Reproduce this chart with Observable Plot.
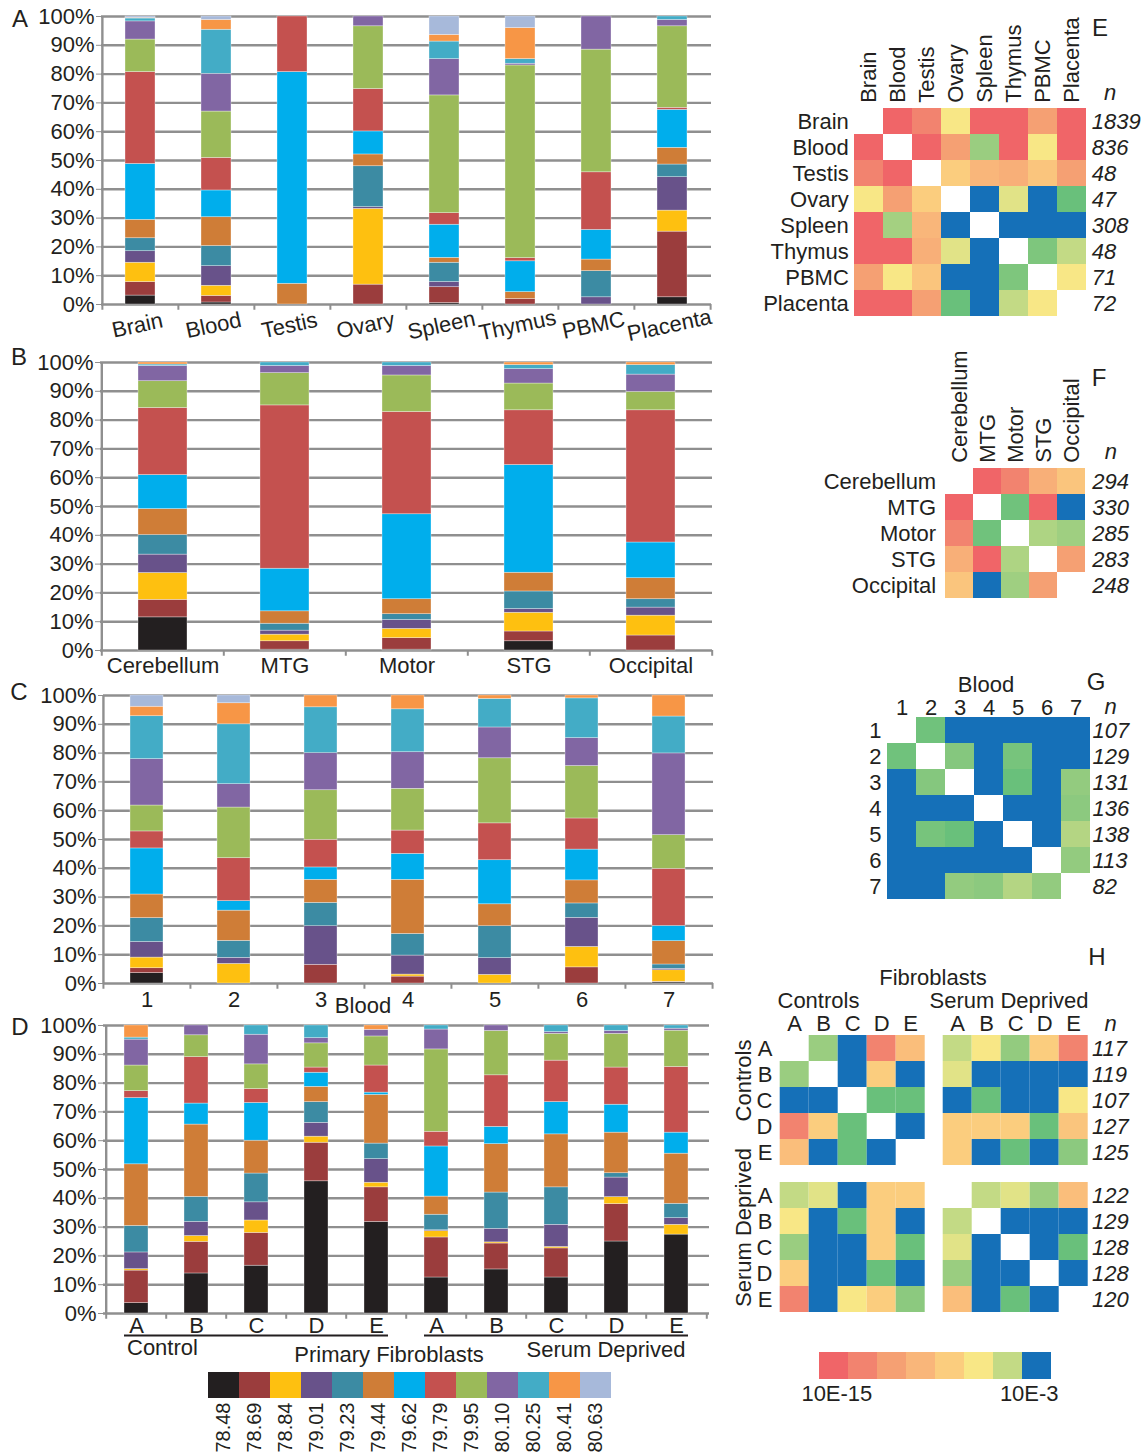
<!DOCTYPE html>
<html><head><meta charset="utf-8">
<script src="https://cdn.jsdelivr.net/npm/d3@7"></script>
<script src="https://cdn.jsdelivr.net/npm/@observablehq/plot@0.6"></script>
<style>
html,body{margin:0;padding:0;background:#fff;}
#page{position:relative;width:1143px;height:1456px;overflow:hidden;background:#fff;font-family:"Liberation Sans",Arial,Helvetica,sans-serif;color:#231f20;}
#page svg{position:absolute;}
</style></head>
<body><div id="page"></div>
<script>
// ---------------- DATA ----------------
const bins = ["78.48","78.69","78.84","79.01","79.23","79.44","79.62","79.79","79.95","80.10","80.25","80.41","80.63"];
const yTicks = [0,10,20,30,40,50,60,70,80,90,100];

// Panel A: tissues (percent per bin, bottom to top)
const tissues = ["Brain","Blood","Testis","Ovary","Spleen","Thymus","PBMC","Placenta"];
const brainA    = [3.1, 4.7, 6.7, 4.0, 4.5, 6.4, 19.4, 31.9, 11.3, 6.3, 1.0, 0.2, 0.5];
const bloodA    = [0.7, 2.3, 3.5, 6.8, 7.0, 10.0, 9.3, 11.3, 16.1, 13.1, 15.3, 3.4, 1.2];
const testisA   = [0, 0, 0, 0, 0, 7.2, 73.5, 19.3, 0, 0, 0, 0, 0];
const ovaryA    = [0, 6.9, 26.3, 0.6, 14.2, 4.1, 8.0, 14.7, 21.8, 3.4, 0, 0, 0];
const spleenA   = [0.5, 5.5, 0, 1.8, 6.7, 1.7, 11.5, 4.0, 40.9, 12.6, 6.1, 2.3, 6.4];
const thymusA   = [0, 1.9, 0, 0, 0, 2.4, 10.7, 1.1, 66.9, 0.6, 1.6, 10.8, 4.0];
const pbmcA     = [0, 0, 0, 2.5, 9.1, 4.0, 10.3, 20.0, 42.6, 11.5, 0, 0, 0];
const placentaA = [2.5, 22.8, 7.3, 11.6, 4.4, 5.8, 13.2, 0.7, 28.3, 2.2, 1.2, 0, 0];

// Panel B: brain regions
const regions = ["Cerebellum","MTG","Motor","STG","Occipital"];
const cerebellumB = [11.5, 6.1, 9.3, 6.4, 6.8, 9.0, 11.8, 23.3, 9.3, 5.3, 0.5, 0.7, 0];
const mtgB        = [0.3, 2.9, 2.3, 1.4, 2.4, 4.3, 14.8, 56.7, 11.2, 2.5, 1.2, 0, 0];
const motorB      = [0.3, 4.0, 3.2, 3.1, 2.0, 5.2, 29.5, 35.5, 12.7, 3.3, 1.2, 0, 0];
const stgB        = [3.2, 3.4, 6.5, 1.3, 6.1, 6.5, 37.4, 19.0, 9.3, 5.0, 1.4, 0.9, 0];
const occipitalB  = [0, 5.2, 6.9, 2.8, 2.9, 7.3, 12.4, 45.9, 6.4, 6.0, 3.3, 0.9, 0];

// Panel C: blood samples
const bloodSamples = ["1","2","3","4","5","6","7"];
const blood1 = [3.6, 1.7, 3.7, 5.4, 8.3, 8.2, 16.0, 5.9, 9.0, 16.1, 14.9, 3.3, 3.9];
const blood2 = [0, 0, 6.8, 2.1, 5.9, 10.5, 3.3, 14.9, 17.6, 8.1, 20.8, 7.3, 2.7];
const blood3 = [0, 6.5, 0, 13.4, 8.1, 8.0, 4.3, 9.6, 17.2, 12.9, 15.9, 4.1, 0];
const blood4 = [0, 2.4, 0.7, 6.6, 7.5, 18.8, 9.0, 8.1, 14.5, 12.7, 14.9, 4.8, 0];
const blood5 = [0, 0, 3.0, 5.8, 11.1, 7.6, 15.3, 12.8, 22.6, 10.7, 9.9, 1.2, 0];
const blood6 = [0, 5.6, 7.1, 10.1, 5.0, 8.0, 10.7, 10.8, 18.2, 9.7, 13.8, 1.0, 0];
const blood7 = [0.4, 0.2, 4.0, 0.5, 1.5, 8.1, 5.3, 19.8, 11.7, 28.4, 12.8, 7.3, 0];

// Panel D: primary fibroblasts
const fibroGroups = ["Control","Serum Deprived"];
const fibroSamples = ["A","B","C","D","E"];
const ctrlA = [3.6, 11.3, 0.5, 5.8, 9.2, 21.4, 23.0, 2.4, 8.9, 9.0, 0.7, 4.2, 0];
const ctrlB = [13.9, 11.0, 2.0, 4.9, 8.7, 25.1, 7.3, 16.1, 7.6, 3.4, 0, 0, 0];
const ctrlC = [16.6, 11.4, 4.3, 6.3, 10.0, 11.4, 13.1, 4.8, 8.6, 10.3, 3.2, 0, 0];
const ctrlD = [45.9, 13.4, 2.1, 4.8, 7.2, 5.3, 4.9, 1.8, 8.4, 1.8, 4.4, 0, 0];
const ctrlE = [31.8, 12.0, 1.6, 8.2, 5.4, 16.9, 0.8, 9.4, 10.1, 2.3, 0, 1.5, 0];
const serumA = [12.5, 13.9, 2.2, 0.3, 5.4, 6.3, 17.4, 5.1, 28.6, 6.9, 1.4, 0, 0];
const serumB = [15.3, 9.0, 0.4, 4.7, 12.6, 16.8, 6.0, 17.9, 15.4, 1.9, 0, 0, 0];
const serumC = [12.5, 10.1, 0.5, 7.7, 13.0, 18.4, 11.2, 14.4, 9.3, 0.6, 2.3, 0, 0];
const serumD = [25.0, 13.0, 2.4, 6.8, 1.5, 14.1, 9.7, 12.9, 11.7, 1.0, 1.9, 0, 0];
const serumE = [27.4, 0, 3.4, 2.3, 5.0, 17.4, 7.3, 22.8, 12.6, 0.7, 1.1, 0, 0];

// Heatmaps: log10 p-value per pair (null = same sample; -2 = not significant, p > 10E-3)
const nE = [1839, 836, 48, 47, 308, 48, 71, 72];
const matE = [
  [null, -15, -13, -7, -15, -15, -11.5, -15],
  [-15, null, -15, -11.5, -4.2, -15, -7, -15],
  [-13, -15, null, -8.5, -10, -10.5, -9, -11.5],
  [-7, -11.5, -8.5, null, -2, -6, -2, -3.5],
  [-15, -4.4, -10, -2, null, -2, -2, -2],
  [-15, -15, -10.5, -6, -2, null, -3.8, -5],
  [-11.5, -7, -9, -2, -2, -3.8, null, -7],
  [-15, -15, -11.5, -3.5, -2, -5, -7, null]
];
const nF = [294, 330, 285, 283, 248];
const matF = [
  [null, -15, -13, -10.5, -9],
  [-15, null, -3.6, -15, -2],
  [-13, -3.6, null, -4.6, -4.3],
  [-10.5, -15, -4.6, null, -11.5],
  [-9, -2, -4.3, -11.5, null]
];
const nG = [107, 129, 131, 136, 138, 113, 82];
const matG = [
  [null, -3.6, -2, -2, -2, -2, -2],
  [-3.6, null, -3.9, -2, -3.7, -2, -2],
  [-2, -3.9, null, -2, -3.5, -2, -4.1],
  [-2, -2, -2, null, -2, -2, -4.0],
  [-2, -3.7, -3.5, -2, null, -2, -4.7],
  [-2, -2, -2, -2, -2, null, -4.1],
  [-2, -2, -4.1, -4.0, -4.7, -4.1, null]
];
const hGroups = ["Controls","Serum Deprived"];
const nH = [117, 119, 107, 127, 125, 122, 129, 128, 128, 120];
const matH = [
  [null, -4.2, -2, -13, -9.5,   -5, -7, -4.1, -8.5, -13],
  [-4.2, null, -2, -8.5, -2,    -6, -2, -2, -2, -2],
  [-2, -2, null, -3.5, -3.5,    -2, -3.5, -2, -2, -7],
  [-13, -8.5, -3.5, null, -2,   -8.5, -8.5, -8.5, -3.5, -9],
  [-9.5, -2, -3.5, -2, null,    -8.5, -2, -3.5, -2, -4.0],
  [-5, -6, -2, -8.5, -8.5,      null, -5, -6, -4.2, -9.5],
  [-7, -2, -3.5, -8.5, -2,      -5, null, -2, -2, -2],
  [-4.2, -2, -2, -8.5, -3.5,    -6, -2, null, -2, -3.5],
  [-8.5, -2, -2, -3.5, -2,      -4.2, -2, -2, null, -2],
  [-13, -2, -7, -8.5, -4.0,     -9.5, -2, -3.5, -2, null]
];
const heatLegendLevels = [-15, -13, -11.5, -10, -8.5, -7, -5, -2];
const heatLegendLabels = ["10E-15", "10E-3"];

// ---------------- STYLE ----------------
const FONT = '"Liberation Sans", Arial, Helvetica, sans-serif';
const INK = "#231f20";
const GRID = "#8f8f8f";
const binColors = ["#231F20","#9B3D3D","#FEC010","#68528A","#3C8BA3","#CF7D37","#00AEEC","#C4514F","#9BBA59","#8166A3","#43ACC6","#F79646","#A7B9DA"];
const heatColor = {
  type: "linear",
  domain: [-15, -13, -11.5, -10, -8.5, -7, -6, -5, -4.2, -3.5, -2],
  range: ["#F06568","#F2836F","#F5A073","#F9B67A","#FBCD7E","#F8E786","#E1E387","#C3DA85","#9ACD80","#69C07B","#1570B8"]
};
const baseStyle = {fontFamily: FONT, fontSize: "22px", color: INK, background: "transparent", overflow: "visible"};
const T = {fontSize: 22, fill: INK, lineAnchor: "middle"};
const page = document.getElementById("page");

function place(svg, left, top) {
  svg.style.left = left + "px";
  svg.style.top = top + "px";
  svg.style.maxWidth = "none";
  page.appendChild(svg);
}
function addLabel(text, x, y, {size = 22, anchor = "middle", italic = false} = {}) {
  const d = document.createElement("div");
  d.textContent = text;
  d.style.cssText = `position:absolute;left:${x}px;top:${y - 0.4885 * size}px;font-size:${size}px;line-height:${size}px;white-space:nowrap;${italic ? "font-style:italic;" : ""}`;
  if (anchor === "middle") d.style.transform = "translateX(-50%)";
  else if (anchor === "end") d.style.transform = "translateX(-100%)";
  page.appendChild(d);
}

// ---------------- BAR PANELS ----------------
function barPanel({keys, values, labelFn, left, top, width, height, mt, mb, ml, mr, pad, labelDy, labelDx = 0, rotate = 0, extra = []}) {
  const long = keys.flatMap((k, i) => values[i].map((v, j) => ({k, bin: bins[j], v})));
  const step = (width - ml - mr) / keys.length;
  const svg = Plot.plot({
    width, height, marginTop: mt, marginBottom: mb, marginLeft: ml, marginRight: mr,
    style: baseStyle,
    x: {domain: keys, paddingInner: pad, paddingOuter: pad / 2, axis: null, label: null},
    y: {domain: [0, 100], axis: null, label: null},
    color: {domain: bins, range: binColors},
    marks: [
      Plot.gridY(yTicks, {stroke: GRID, strokeOpacity: 1, strokeWidth: 2.4}),
      Plot.ruleX(keys, {x: d => d, y1: 0, y2: -2, dx: -step / 2, stroke: GRID, strokeWidth: 2}),
      Plot.ruleX(keys.slice(-1), {x: d => d, y1: 0, y2: -2, dx: step / 2, stroke: GRID, strokeWidth: 2}),
      Plot.ruleX(keys.slice(0, 1), {x: d => d, y1: 0, y2: 100, dx: -step / 2, stroke: GRID, strokeWidth: 2.4}),
      Plot.axisY(yTicks, {tickFormat: d => d + "%", tickSize: 5, tickPadding: 2, fontSize: 22, stroke: GRID, fill: INK, label: null}),
      Plot.barY(long, {x: "k", y: "v", fill: "bin", stroke: "white", strokeWidth: 0.6, strokeOpacity: 0.55}),
      Plot.text(keys, {...T, x: d => d, text: labelFn, frameAnchor: "bottom", dy: labelDy, dx: labelDx, rotate}),
      ...extra
    ]
  });
  place(svg, left, top);
}

barPanel({keys: tissues, values: [brainA, bloodA, testisA, ovaryA, spleenA, thymusA, pbmcA, placentaA],
  labelFn: d => d, left: 0, top: 0, width: 720, height: 345, mt: 16, mb: 41, ml: 101, mr: 9, pad: 0.606,
  labelDy: 21, labelDx: -3, rotate: -12});

barPanel({keys: regions, values: [cerebellumB, mtgB, motorB, stgB, occipitalB],
  labelFn: d => d, left: 0, top: 350, width: 720, height: 340, mt: 12, mb: 40, ml: 100, mr: 8, pad: 0.6,
  labelDy: 15});

barPanel({keys: bloodSamples, values: [blood1, blood2, blood3, blood4, blood5, blood6, blood7],
  labelFn: d => d, left: 0, top: 680, width: 720, height: 340, mt: 15, mb: 37, ml: 103, mr: 7, pad: 0.615,
  labelDy: 16});

const dKeys = fibroGroups.flatMap(g => fibroSamples.map(s => g + "|" + s));
barPanel({keys: dKeys, values: [ctrlA, ctrlB, ctrlC, ctrlD, ctrlE, serumA, serumB, serumC, serumD, serumE],
  labelFn: d => d.split("|")[1], left: 0, top: 1010, width: 720, height: 340, mt: 15, mb: 37, ml: 103, mr: 11, pad: 0.6,
  labelDy: 12,
  extra: [Plot.ruleY(fibroGroups, {y: () => 0, x1: g => g + "|A", x2: g => g + "|E", dy: 22, stroke: INK, strokeWidth: 2})]});

// bar colour legend
place(Plot.plot({
  width: 440, height: 96, marginLeft: 12, marginRight: 13, marginTop: 12, marginBottom: 58,
  style: baseStyle,
  x: {domain: bins, padding: 0, axis: null},
  color: {domain: bins, range: binColors},
  marks: [
    Plot.cell(bins, {x: d => d, fill: d => d, inset: 0}),
    Plot.text(bins, {...T, x: d => d, frameAnchor: "bottom", rotate: -90, textAnchor: "end", dy: 4, fontSize: 20})
  ]
}), 190, 1360);

// ---------------- HEATMAPS ----------------
function heatCells(rows, cols, mat) {
  const out = [];
  rows.forEach((r, i) => cols.forEach((c, j) => { if (mat[i][j] != null) out.push({r, c, v: mat[i][j]}); }));
  return out;
}
function heatPanel({labels, mat, n, left, top, width, height, mt, mb, ml, mr, rotateCols, colDy, rowDx, nDx, hdrDx, hdrDy}) {
  const colText = rotateCols
    ? Plot.text(labels, {...T, x: d => d, frameAnchor: "top", rotate: -90, textAnchor: "start", dy: colDy})
    : Plot.text(labels, {...T, x: d => d, frameAnchor: "top", textAnchor: "middle", dy: colDy});
  place(Plot.plot({
    width, height, marginTop: mt, marginBottom: mb, marginLeft: ml, marginRight: mr,
    style: baseStyle,
    x: {domain: labels, padding: 0, axis: null},
    y: {domain: labels, padding: 0, axis: null},
    color: heatColor,
    marks: [
      Plot.cell(heatCells(labels, labels, mat), {x: "c", y: "r", fill: "v", inset: 0}),
      colText,
      Plot.text(labels, {...T, y: d => d, frameAnchor: "left", textAnchor: "end", dx: rowDx}),
      Plot.text(labels, {...T, y: d => d, text: (d, i) => String(n[i]), frameAnchor: "right", textAnchor: "start", dx: nDx, fontStyle: "italic"}),
      Plot.text(["n"], {...T, frameAnchor: "top-right", textAnchor: "middle", dx: hdrDx, dy: hdrDy, fontStyle: "italic"})
    ]
  }), left, top);
}

heatPanel({labels: tissues, mat: matE, n: nE, left: 740, top: 0, width: 403, height: 330,
  mt: 107.3, mb: 13.3, ml: 114.3, mr: 56.3, rotateCols: true, colDy: -5, rowDx: -6, nDx: 4.5, hdrDx: 23, hdrDy: -15});
heatPanel({labels: regions, mat: matF, n: nF, left: 800, top: 340, width: 343, height: 270,
  mt: 128.3, mb: 11.7, ml: 142.7, mr: 55.7, rotateCols: true, colDy: -6, rowDx: -7, nDx: 4.5, hdrDx: 23, hdrDy: -17});
heatPanel({labels: bloodSamples, mat: matG, n: nG, left: 860, top: 670, width: 283, height: 240,
  mt: 46.7, mb: 10.7, ml: 26, mr: 53, rotateCols: false, colDy: -9, rowDx: -5, nDx: 2, hdrDx: 20, hdrDy: -10});

// Panel H with facets
const hCells = [];
matH.forEach((row, i) => row.forEach((v, j) => {
  if (v != null) hCells.push({fr: hGroups[Math.floor(i / 5)], r: fibroSamples[i % 5], fc: hGroups[Math.floor(j / 5)], c: fibroSamples[j % 5], v});
}));
const hLetters = hGroups.flatMap(g => fibroSamples.map(l => ({g, l})));
const hN = nH.map((n, i) => ({g: hGroups[Math.floor(i / 5)], l: fibroSamples[i % 5], n: String(n)}));
place(Plot.plot({
  width: 413, height: 380, marginTop: 95, marginBottom: 6.7, marginLeft: 48.3, marginRight: 54.7,
  style: baseStyle,
  fx: {domain: hGroups, paddingInner: 0.1056, paddingOuter: 0, axis: null},
  fy: {domain: hGroups, paddingInner: 0.113, paddingOuter: 0, axis: null},
  x: {domain: fibroSamples, padding: 0, axis: null},
  y: {domain: fibroSamples, padding: 0, axis: null},
  color: heatColor,
  marks: [
    Plot.cell(hCells, {fx: "fc", fy: "fr", x: "c", y: "r", fill: "v", inset: 0}),
    Plot.text(hLetters, {...T, fx: "g", fy: () => hGroups[0], x: "l", text: "l", frameAnchor: "top", textAnchor: "middle", dy: -12}),
    Plot.text(hLetters, {...T, fy: "g", fx: () => hGroups[0], y: "l", text: "l", frameAnchor: "left", textAnchor: "end", dx: -7}),
    Plot.text(hN, {...T, fy: "g", fx: () => hGroups[1], y: "l", text: "n", frameAnchor: "right", textAnchor: "start", dx: 3.5, fontStyle: "italic"}),
    Plot.text(["n"], {...T, fx: () => hGroups[1], fy: () => hGroups[0], frameAnchor: "top-right", textAnchor: "middle", dx: 22, dy: -12, fontStyle: "italic"}),
    Plot.text(hGroups, {...T, fy: d => d, fx: () => hGroups[0], frameAnchor: "left", textAnchor: "middle", rotate: -90, dx: -36, dy: -20}),
    Plot.text(hGroups.slice(0, 1), {...T, fx: d => d, fy: () => hGroups[0], frameAnchor: "top-left", textAnchor: "start", dx: -2, dy: -35}),
    Plot.text(hGroups.slice(1), {...T, fx: d => d, fy: () => hGroups[0], frameAnchor: "top-right", textAnchor: "end", dy: -35})
  ]
}), 730, 940);

// heat legend
place(Plot.plot({
  width: 343, height: 80, marginLeft: 18, marginRight: 92, marginTop: 12, marginBottom: 41,
  style: baseStyle,
  x: {domain: heatLegendLevels.map((d, i) => i), padding: 0, axis: null},
  color: heatColor,
  marks: [
    Plot.cell(heatLegendLevels, {x: (d, i) => i, fill: d => d, inset: 0}),
    Plot.text([heatLegendLabels[0]], {...T, x: () => 0, frameAnchor: "bottom", textAnchor: "start", dx: -32.6, dy: 14}),
    Plot.text([heatLegendLabels[1]], {...T, x: () => heatLegendLevels.length - 1, frameAnchor: "bottom", textAnchor: "end", dx: 21.6, dy: 14})
  ]
}), 800, 1340);

// ---------------- TITLES / PANEL LETTERS ----------------
addLabel("A", 20, 19, {size: 24});
addLabel("B", 19, 357, {size: 24});
addLabel("C", 19, 692, {size: 24});
addLabel("D", 20, 1027, {size: 24});
addLabel("E", 1100, 28, {size: 24});
addLabel("F", 1099, 378, {size: 24});
addLabel("G", 1096, 682, {size: 24});
addLabel("H", 1097, 957, {size: 24});
addLabel("Blood", 363, 1006);
addLabel("Control", 127, 1348, {anchor: "start"});
addLabel("Primary Fibroblasts", 389, 1355);
addLabel("Serum Deprived", 606, 1350);
addLabel("Blood", 986, 685);
addLabel("Fibroblasts", 933, 978);
</script>
</body></html>
